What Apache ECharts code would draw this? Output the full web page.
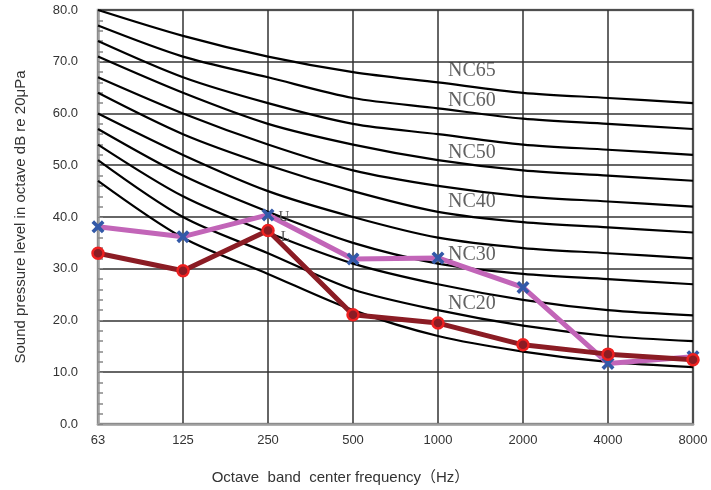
<!DOCTYPE html>
<html><head><meta charset="utf-8">
<script src="https://cdn.jsdelivr.net/npm/echarts@6/dist/echarts.min.js"></script>
<style>html,body{margin:0;padding:0;background:#fff}#c{width:711px;height:490px}</style>
</head><body><div id="c"></div>
<script>
var categories = ['63','125','250','500','1000','2000','4000','8000'];
var nc15 = [47,36,29,22,17,14,12,11];
var nc20 = [51,40,33,26,22,19,17,16];
var nc25 = [54,44,37,31,27,24,22,21];
var nc30 = [57,48,41,35,31,29,28,27];
var nc35 = [60,52,45,40,36,34,33,32];
var nc40 = [64,56,50,45,41,39,38,37];
var nc45 = [67,60,54,49,46,44,43,42];
var nc50 = [71,64,58,54,51,49,48,47];
var nc55 = [74,67,62,58,56,54,53,52];
var nc60 = [77,71,67,63,61,59,58,57];
var nc65 = [80,75,71,68,66,64,63,62];
var upperValues = [38.1,36.2,40.4,31.9,32.1,26.4,11.7,13.0];
var lowerValues = [33.0,29.6,37.4,21.1,19.5,15.3,13.5,12.4];
var ncLabelNames = ['NC65','NC60','NC50','NC40','NC30','NC20'];
var ncLabelValues = [68.3,62.5,52.5,43.0,32.8,23.2];
var yTicks = [0,10,20,30,40,50,60,70,80];

var ncCurves = [nc15,nc20,nc25,nc30,nc35,nc40,nc45,nc50,nc55,nc60,nc65];
var series = ncCurves.map(function(d){
  return {type:'line', data:d, smooth:0.3, symbol:'none', silent:true,
    lineStyle:{color:'#000', width:2.2}, z:2};
});
var crossPath = 'path://M2,0 L5,3 L8,0 L10,2 L7,5 L10,8 L8,10 L5,7 L2,10 L0,8 L3,5 L0,2 Z';
series.push({type:'line', name:'U', data:upperValues.map(function(v,i){
    var o={value:v};
    if(i===2){o.label={show:true,formatter:'U',position:'right',distance:4,offset:[0,2],
      fontFamily:'Liberation Serif',fontSize:15,color:'#555'};}
    return o;}),
  symbol:crossPath, symbolSize:13,
  lineStyle:{color:'#c265b8', width:5}, itemStyle:{color:'#3359a8'}, z:3});
series.push({type:'line', name:'L', data:lowerValues.map(function(v,i){
    var o={value:v};
    if(i===2){o.label={show:true,formatter:'L',position:'right',distance:6,offset:[0,7],
      fontFamily:'Liberation Serif',fontSize:15,color:'#555'};}
    return o;}),
  symbol:'circle', symbolSize:11,
  lineStyle:{color:'#8b1c24', width:5}, itemStyle:{color:'#8b1c24', borderColor:'#ee2020', borderWidth:2.5}, z:4});
series.push({type:'scatter', data:ncLabelValues.map(function(v,i){return {value:['1000',v], name:ncLabelNames[i]};}),
  symbolSize:0, silent:true, z:5,
  label:{show:true, position:'right', distance:10, formatter:function(p){return p.name;},
    fontFamily:'Liberation Serif', fontSize:20, color:'#3a3a3a'}});

var chart = echarts.init(document.getElementById('c'), null, {renderer:'canvas'});
chart.setOption({
  animation:false,
  grid:{left:98, right:18, top:10, bottom:66, show:true, borderColor:'#a0a0a0', borderWidth:2.5, containLabel:false},
  xAxis:{type:'category', data:categories, boundaryGap:false,
    axisLine:{show:true, lineStyle:{color:'#a0a0a0', width:2.5}},
    axisTick:{show:false},
    axisLabel:{margin:10, fontFamily:'Liberation Sans', fontSize:13, color:'#333'},
    splitLine:{show:true, lineStyle:{color:'#333', width:1.5}},
    name:'Octave  band  center frequency（Hz）', nameLocation:'middle', nameGap:46,
    nameTextStyle:{fontFamily:'Liberation Sans, Noto Sans CJK SC', fontSize:15, color:'#333', padding:[0,110,0,0]}},
  yAxis:{type:'value', min:yTicks[0], max:yTicks[yTicks.length-1], interval:10,
    axisLine:{show:true, lineStyle:{color:'#a0a0a0', width:2.5}},
    axisTick:{show:true, inside:true, length:5, lineStyle:{color:'#888'}},
    minorTick:{show:true, splitNumber:5, length:5, lineStyle:{color:'#888', width:1.5}},
    axisLabel:{margin:20, fontFamily:'Liberation Sans', fontSize:13, color:'#333', formatter:function(v){return v.toFixed(1);}},
    splitLine:{show:true, lineStyle:{color:'#333', width:1.5}},
    name:'Sound pressure level in octave dB re 20μPa', nameLocation:'middle', nameGap:70,
    nameTextStyle:{fontFamily:'Liberation Sans', fontSize:15, color:'#333'}},
  series:series
});
</script></body></html>
